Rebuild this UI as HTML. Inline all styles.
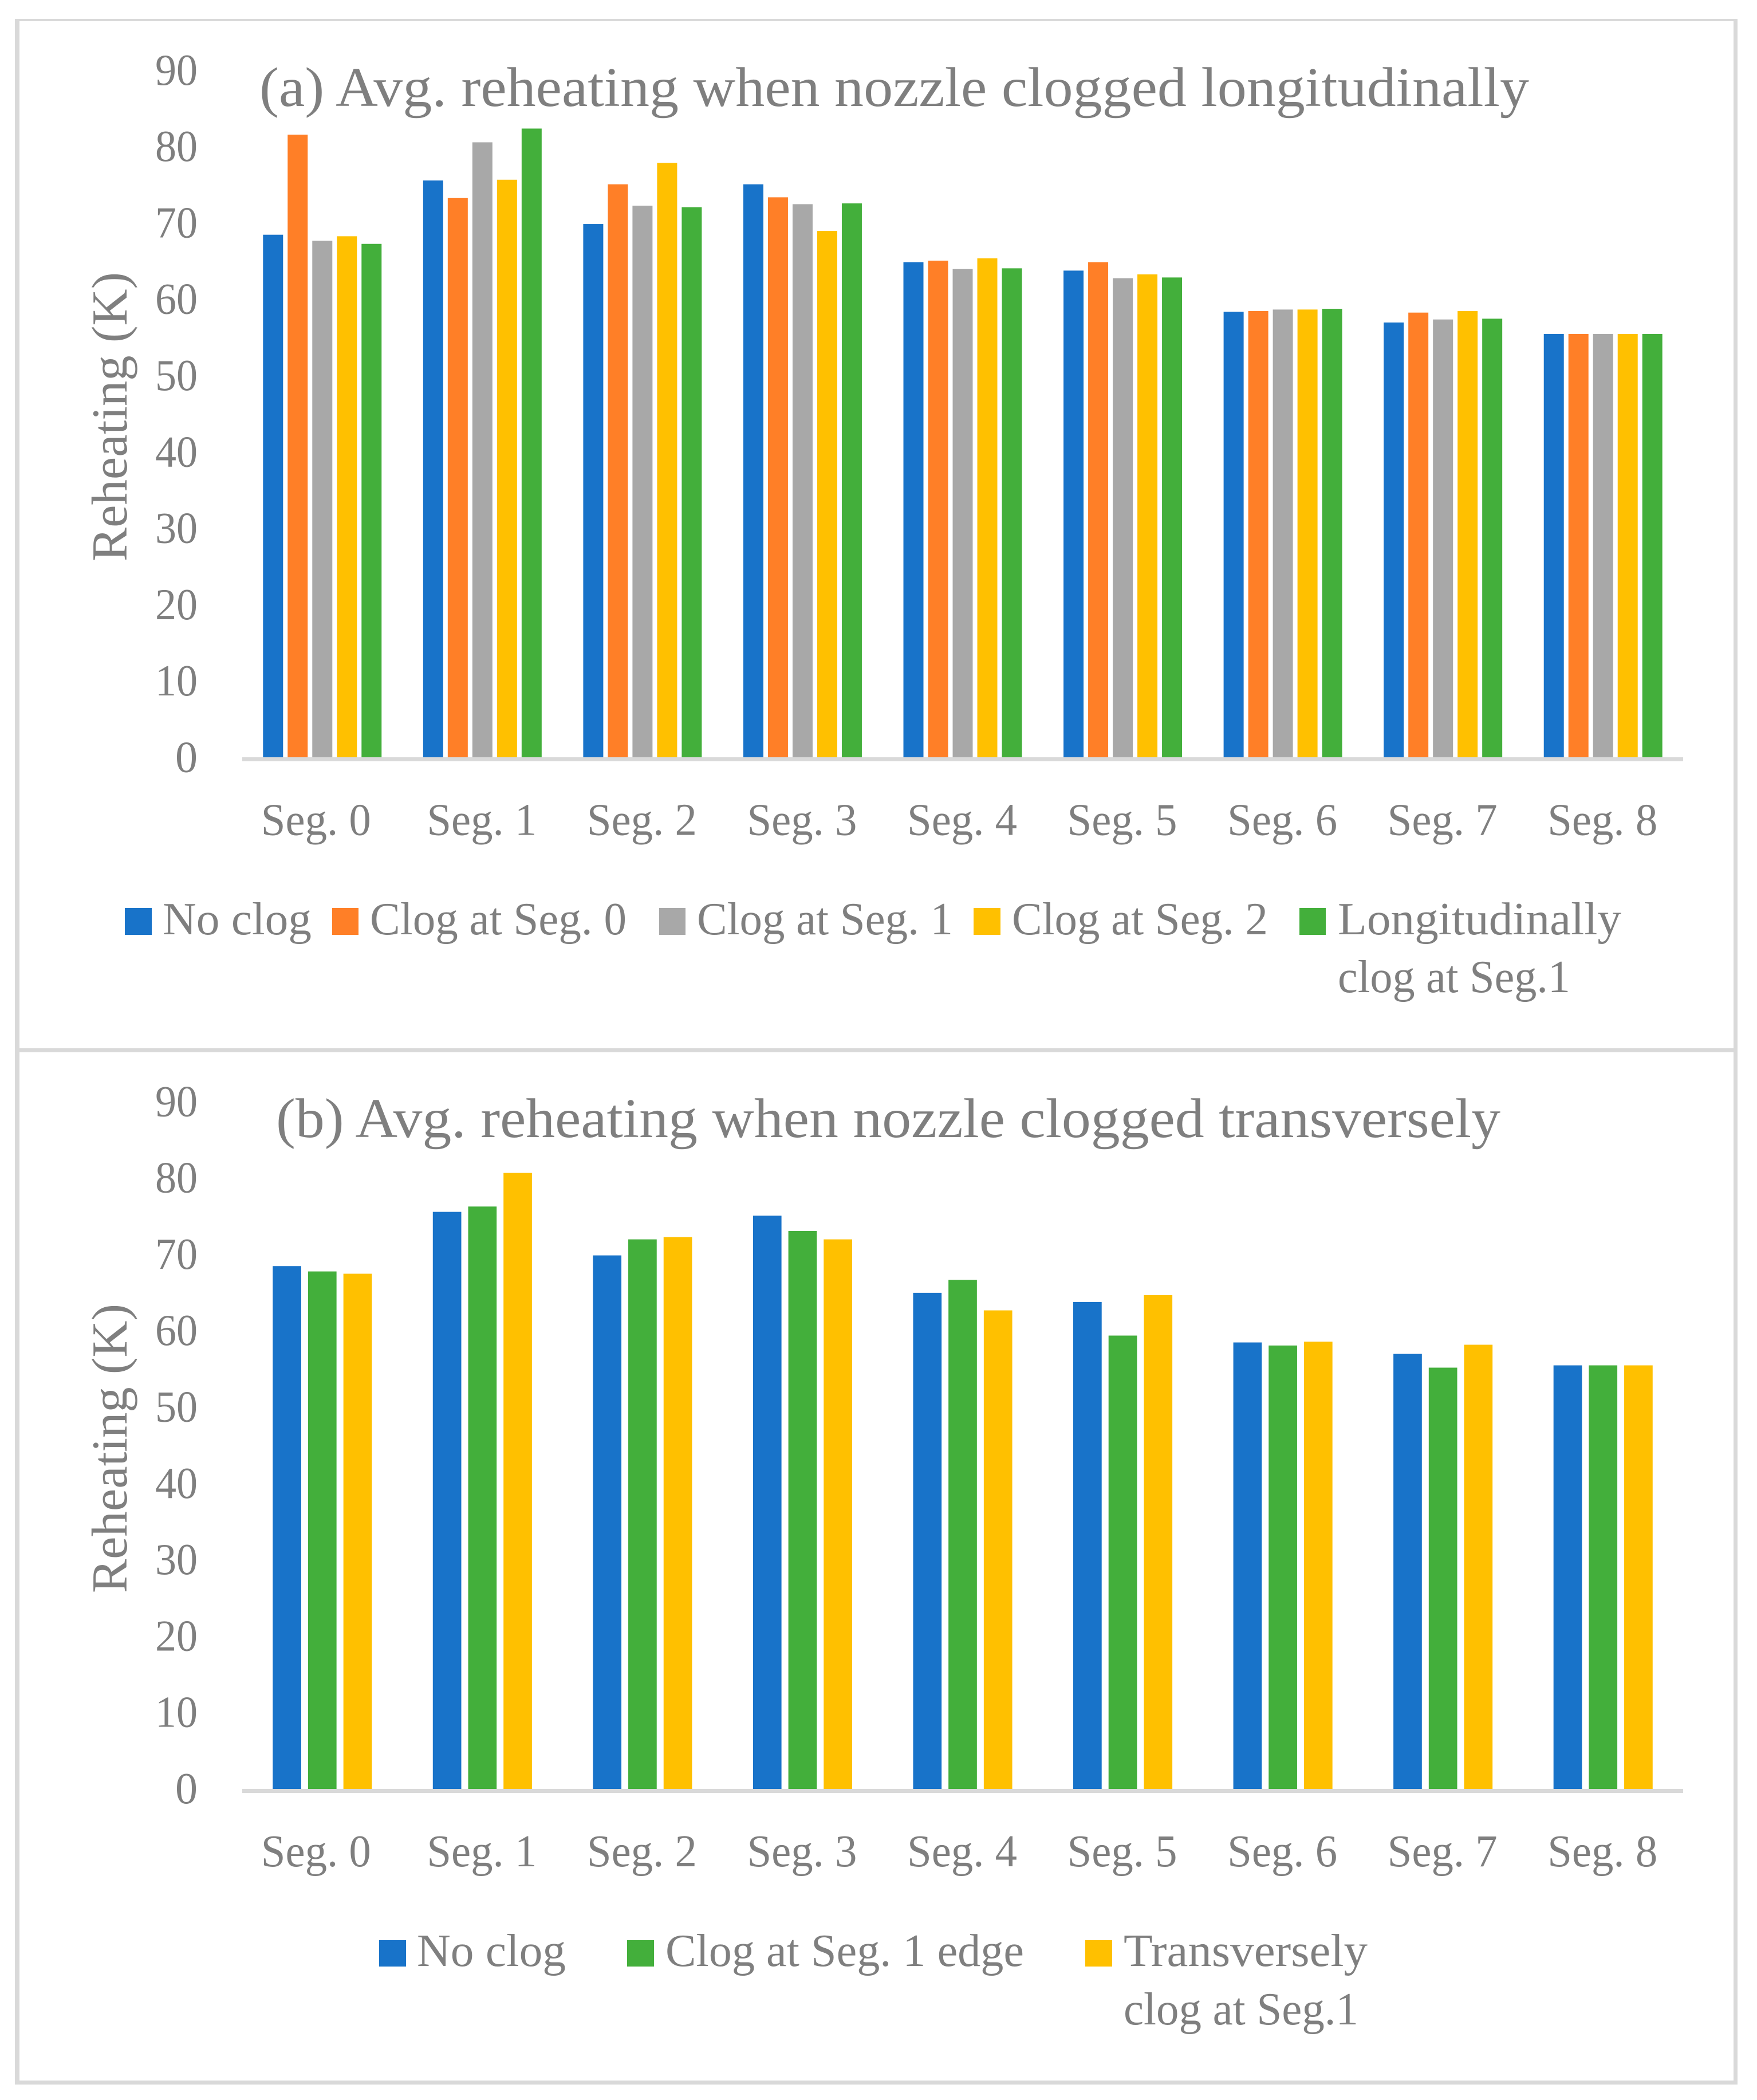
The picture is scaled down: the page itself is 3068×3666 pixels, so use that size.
<!DOCTYPE html>
<html lang="en">
<head>
<meta charset="utf-8">
<title>Average reheating when nozzle clogged</title>
<style>
  html, body { margin: 0; padding: 0; background: #ffffff; width: 3068px; height: 3666px; overflow: hidden; }
  svg { display: block; }
  text { font-family: "Liberation Serif", "DejaVu Serif", serif; fill: #7f7f7f; }
  .title { font-size: 97px; }
  .tick { font-size: 77px; }
  .cat { font-size: 79px; }
  .axis-title { font-size: 88px; }
  .legend { font-size: 80px; }
</style>
</head>
<body>
<svg id="chart" xmlns="http://www.w3.org/2000/svg" width="3068" height="3666" viewBox="0 0 3068 3666">
  <rect x="0" y="0" width="3068" height="3666" fill="#ffffff"/>
  <rect x="26" y="33" width="3008" height="4" fill="#d9d9d9"/>
  <rect x="26" y="33" width="8" height="3606" fill="#d9d9d9"/>
  <rect x="3027" y="33" width="7" height="3606" fill="#d9d9d9"/>
  <rect x="26" y="3632" width="3008" height="7" fill="#d9d9d9"/>
  <rect x="26" y="1830" width="3008" height="7" fill="#d9d9d9"/>

  <g id="panel-a">
    <g id="bars-a"></g>
    <rect x="423" y="1322" width="2516" height="7" fill="#d9d9d9"/>
    <g id="ticks-a"></g>
    <g id="cats-a"></g>
    <text class="title" x="453" y="185" textLength="2217" lengthAdjust="spacingAndGlyphs">(a) Avg. reheating when nozzle clogged longitudinally</text>
    <text class="axis-title" transform="translate(221 980) rotate(-90)" textLength="505" lengthAdjust="spacingAndGlyphs">Reheating (K)</text>
    <g>
      <rect x="218" y="1585" width="47" height="47" fill="#1873c9"/>
      <text class="legend" x="284" y="1631" textLength="260" lengthAdjust="spacingAndGlyphs">No clog</text>
      <rect x="580" y="1585" width="46" height="47" fill="#ff7f27"/>
      <text class="legend" x="646" y="1631" textLength="448" lengthAdjust="spacingAndGlyphs">Clog at Seg. 0</text>
      <rect x="1151" y="1585" width="46" height="47" fill="#a8a8a8"/>
      <text class="legend" x="1217" y="1631" textLength="447" lengthAdjust="spacingAndGlyphs">Clog at Seg. 1</text>
      <rect x="1700" y="1585" width="47" height="47" fill="#ffc000"/>
      <text class="legend" x="1767" y="1631" textLength="447" lengthAdjust="spacingAndGlyphs">Clog at Seg. 2</text>
      <rect x="2269" y="1585" width="46" height="47" fill="#43af3b"/>
      <text class="legend" x="2336" y="1631" textLength="495" lengthAdjust="spacingAndGlyphs">Longitudinally</text>
      <text class="legend" x="2336" y="1732" textLength="406" lengthAdjust="spacingAndGlyphs">clog at Seg.1</text>
    </g>
  </g>

  <g id="panel-b">
    <g id="bars-b"></g>
    <rect x="423" y="3123" width="2516" height="7" fill="#d9d9d9"/>
    <g id="ticks-b"></g>
    <g id="cats-b"></g>
    <text class="title" x="482" y="1985" textLength="2138" lengthAdjust="spacingAndGlyphs">(b) Avg. reheating when nozzle clogged transversely</text>
    <text class="axis-title" transform="translate(221 2781) rotate(-90)" textLength="505" lengthAdjust="spacingAndGlyphs">Reheating (K)</text>
    <g>
      <rect x="662" y="3387" width="47" height="46" fill="#1873c9"/>
      <text class="legend" x="728" y="3432" textLength="260" lengthAdjust="spacingAndGlyphs">No clog</text>
      <rect x="1095" y="3387" width="47" height="46" fill="#43af3b"/>
      <text class="legend" x="1162" y="3432" textLength="626" lengthAdjust="spacingAndGlyphs">Clog at Seg. 1 edge</text>
      <rect x="1895" y="3387" width="47" height="46" fill="#ffc000"/>
      <text class="legend" x="1962" y="3432" textLength="426" lengthAdjust="spacingAndGlyphs">Transversely</text>
      <text class="legend" x="1962" y="3534" textLength="410" lengthAdjust="spacingAndGlyphs">clog at Seg.1</text>
    </g>
  </g>
</svg>

<script>
// ---- chart data ----
const categories = ["Seg. 0", "Seg. 1", "Seg. 2", "Seg. 3", "Seg. 4", "Seg. 5", "Seg. 6", "Seg. 7", "Seg. 8"];
const tickValues = [0, 10, 20, 30, 40, 50, 60, 70, 80, 90];

// Panel (a)
const aNoClog       = [68.7, 75.8, 70.1, 75.3, 65.1, 64.0, 58.6, 57.2, 55.7];
const aClogSeg0     = [81.8, 73.5, 75.3, 73.6, 65.3, 65.1, 58.7, 58.5, 55.7];
const aClogSeg1     = [67.9, 80.8, 72.5, 72.7, 64.2, 63.0, 58.9, 57.6, 55.7];
const aClogSeg2     = [68.5, 75.9, 78.1, 69.2, 65.6, 63.5, 58.9, 58.7, 55.7];
const aLongitudinal = [67.5, 82.6, 72.3, 72.8, 64.3, 63.1, 59.0, 57.7, 55.7];

// Panel (b)
const bNoClog     = [68.7, 75.8, 70.1, 75.3, 65.2, 64.0, 58.7, 57.2, 55.7];
const bClogEdge   = [68.0, 76.5, 72.2, 73.3, 66.9, 59.6, 58.3, 55.4, 55.7];
const bTransverse = [67.7, 80.9, 72.5, 72.2, 62.9, 64.9, 58.8, 58.4, 55.7];

// ---- axis geometry ----
const SVG_NS = "http://www.w3.org/2000/svg";
const plotLeft = 423;
const plotRight = 2939;
const pxPerUnit = 13.33;
const zeroA = 1325.5;
const zeroB = 3126;

function xCenter(i) {
  return plotLeft + (plotRight - plotLeft) / categories.length * (i + 0.5);
}
function yScale(value, zero) {
  return zero - value * pxPerUnit;
}

function drawBars(groupId, seriesList, colorList, nameList, zero, barWidth, gap) {
  const group = document.getElementById(groupId);
  const groupWidth = seriesList.length * barWidth + (seriesList.length - 1) * gap;
  seriesList.forEach(function (values, s) {
    values.forEach(function (value, i) {
      const rect = document.createElementNS(SVG_NS, "rect");
      const top = yScale(value, zero);
      rect.setAttribute("x", xCenter(i) - groupWidth / 2 + s * (barWidth + gap));
      rect.setAttribute("y", top);
      rect.setAttribute("width", barWidth);
      rect.setAttribute("height", zero - top);
      rect.setAttribute("fill", colorList[s]);
      
      
      group.appendChild(rect);
    });
  });
}

function drawTicks(groupId, zero) {
  const group = document.getElementById(groupId);
  tickValues.forEach(function (value) {
    const label = document.createElementNS(SVG_NS, "text");
    label.setAttribute("class", "tick");
    label.setAttribute("x", value === 0 ? 306 : 271);
    label.setAttribute("y", yScale(value, zero) + 22);
    label.setAttribute("textLength", value === 0 ? 39 : 74);
    label.setAttribute("lengthAdjust", "spacingAndGlyphs");
    
    
    label.textContent = String(value);
    group.appendChild(label);
  });
}

function drawCategories(groupId, zero) {
  const group = document.getElementById(groupId);
  categories.forEach(function (name, i) {
    const label = document.createElementNS(SVG_NS, "text");
    label.setAttribute("class", "cat");
    label.setAttribute("x", xCenter(i) - (i === 0 ? 11 : 1));
    label.setAttribute("y", zero + 132);
    label.setAttribute("text-anchor", "middle");
    label.setAttribute("textLength", 192);
    label.setAttribute("lengthAdjust", "spacingAndGlyphs");
    
    
    label.textContent = name;
    group.appendChild(label);
  });
}

drawBars("bars-a",
  [aNoClog, aClogSeg0, aClogSeg1, aClogSeg2, aLongitudinal],
  ["#1873c9", "#ff7f27", "#a8a8a8", "#ffc000", "#43af3b"],
  ["no-clog", "clog-seg-0", "clog-seg-1", "clog-seg-2", "longitudinal"],
  zeroA, 35, 8);
drawTicks("ticks-a", zeroA);
drawCategories("cats-a", zeroA);

drawBars("bars-b",
  [bNoClog, bClogEdge, bTransverse],
  ["#1873c9", "#43af3b", "#ffc000"],
  ["no-clog", "clog-edge", "transverse"],
  zeroB, 49.7, 12);
drawTicks("ticks-b", zeroB);
drawCategories("cats-b", zeroB);
</script>
</body>
</html>
